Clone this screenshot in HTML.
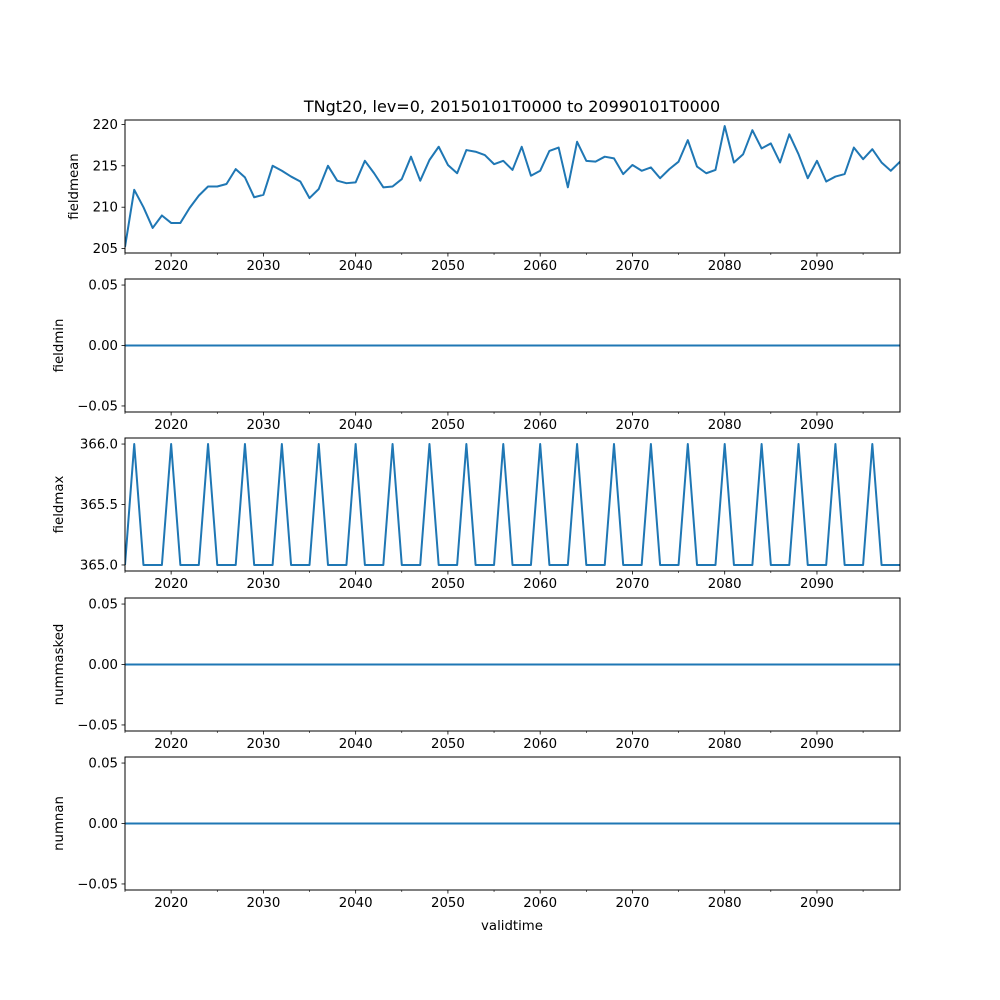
<!DOCTYPE html>
<html><head><meta charset="utf-8"><style>
body{margin:0;background:#fff;}
svg{display:block;font-family:"DejaVu Sans","Liberation Sans",sans-serif;}
</style></head><body>
<svg id="chart" width="1000" height="1000" viewBox="0 0 1000 1000"></svg>
<script>
const years = [];
for (let y = 2015; y <= 2099; y++) years.push(y);
const fieldmean = [205.2,212.1,210,207.5,209,208.1,208.1,209.9,211.4,212.5,212.5,212.8,214.6,213.6,211.2,211.5,215,214.4,213.7,213.1,211.1,212.2,215,213.2,212.9,213,215.6,214.1,212.4,212.5,213.4,216.1,213.2,215.7,217.3,215.1,214.1,216.9,216.7,216.3,215.2,215.6,214.5,217.3,213.8,214.4,216.8,217.2,212.4,217.9,215.6,215.5,216.1,215.9,214,215.1,214.4,214.8,213.5,214.6,215.5,218.1,214.9,214.1,214.5,219.8,215.4,216.4,219.3,217.1,217.7,215.4,218.8,216.4,213.5,215.6,213.1,213.7,214,217.2,215.8,217,215.4,214.4,215.5];
const fieldmin = years.map(()=>0);
const fieldmax = [365,366,365,365,365,366,365,365,365,366,365,365,365,366,365,365,365,366,365,365,365,366,365,365,365,366,365,365,365,366,365,365,365,366,365,365,365,366,365,365,365,366,365,365,365,366,365,365,365,366,365,365,365,366,365,365,365,366,365,365,365,366,365,365,365,366,365,365,365,366,365,365,365,366,365,365,365,366,365,365,365,366,365,365,365];
const nummasked = years.map(()=>0);
const numnan = years.map(()=>0);
const xTicks = [2020,2030,2040,2050,2060,2070,2080,2090];
const xMinor = [2015,2025,2035,2045,2055,2065,2075,2085,2095];
const panels = [
 {name:'fieldmean', data:fieldmean, top:120, ymin:204.47, ymax:220.53, ticks:[205,210,215,220], fmt:v=>String(v)},
 {name:'fieldmin', data:fieldmin, top:279, ymin:-0.055, ymax:0.055, ticks:[-0.05,0,0.05], fmt:v=>v.toFixed(2).replace('-','\u2212')},
 {name:'fieldmax', data:fieldmax, top:438, ymin:364.95, ymax:366.05, ticks:[365,365.5,366], fmt:v=>v.toFixed(1)},
 {name:'nummasked', data:nummasked, top:598, ymin:-0.055, ymax:0.055, ticks:[-0.05,0,0.05], fmt:v=>v.toFixed(2).replace('-','\u2212')},
 {name:'numnan', data:numnan, top:757, ymin:-0.055, ymax:0.055, ticks:[-0.05,0,0.05], fmt:v=>v.toFixed(2).replace('-','\u2212')}
];
const svg = document.getElementById('chart');
const NS='http://www.w3.org/2000/svg';
const L=125,R=900,H=133,X0=2015,X1=2099;
const xs = v => L + (v-X0)/(X1-X0)*(R-L);
function mk(tag, attrs, parent){const e=document.createElementNS(NS,tag);for(const k in attrs)e.setAttribute(k,attrs[k]);(parent||svg).appendChild(e);return e;}
const title = mk('text',{x:512,y:112,'text-anchor':'middle','font-size':16,fill:'#000'});
title.textContent='TNgt20, lev=0, 20150101T0000 to 20990101T0000';


panels.forEach(p=>{
  const g = mk('g',{});
  
  
  const ys = v => p.top + H - (v-p.ymin)/(p.ymax-p.ymin)*H;
  const clipId='clip-'+p.name;
  const cp=mk('clipPath',{id:clipId},g); mk('rect',{x:L,y:p.top,width:R-L,height:H},cp);
  const pts = years.map((yr,i)=>xs(yr).toFixed(2)+','+ys(p.data[i]).toFixed(2)).join(' ');
  const line = mk('polyline',{points:pts,fill:'none',stroke:'#1f77b4','stroke-width':2,'stroke-linejoin':'round','clip-path':'url(#'+clipId+')'},g);
  
  
  const frame = mk('rect',{x:L,y:p.top,width:R-L,height:H,fill:'none',stroke:'#000','stroke-width':1},g);
  
  
  p.ticks.forEach(t=>{
    const y=ys(t);
    mk('line',{x1:L-3.5,x2:L,y1:y,y2:y,stroke:'#000','stroke-width':0.8},g);
    const tx=mk('text',{x:L-7,y:y+4.5,'text-anchor':'end','font-size':13.3,fill:'#000'},g);
    tx.textContent=p.fmt(t);
    
    
  });
  const by=p.top+H;
  xTicks.forEach(t=>{
    const x=xs(t);
    mk('line',{x1:x,x2:x,y1:by,y2:by+3.5,stroke:'#000','stroke-width':0.8},g);
    const tx=mk('text',{x:x,y:by+17,'text-anchor':'middle','font-size':13.3,fill:'#000'},g);
    tx.textContent=String(t);
    
    
  });
  xMinor.forEach(t=>{const x=xs(t);mk('line',{x1:x,x2:x,y1:by,y2:by+2,stroke:'#000','stroke-width':0.6},g);});
  const yl=mk('text',{x:0,y:0,'text-anchor':'middle','font-size':13.3,fill:'#000',transform:'translate('+(p.name==='fieldmean'?78:63)+','+(p.top+H/2)+') rotate(-90)'},g);
  yl.textContent=p.name;
  
  
});
const xl=mk('text',{x:512,y:930,'text-anchor':'middle','font-size':13.3,fill:'#000'});
xl.textContent='validtime';


</script>
</body></html>
